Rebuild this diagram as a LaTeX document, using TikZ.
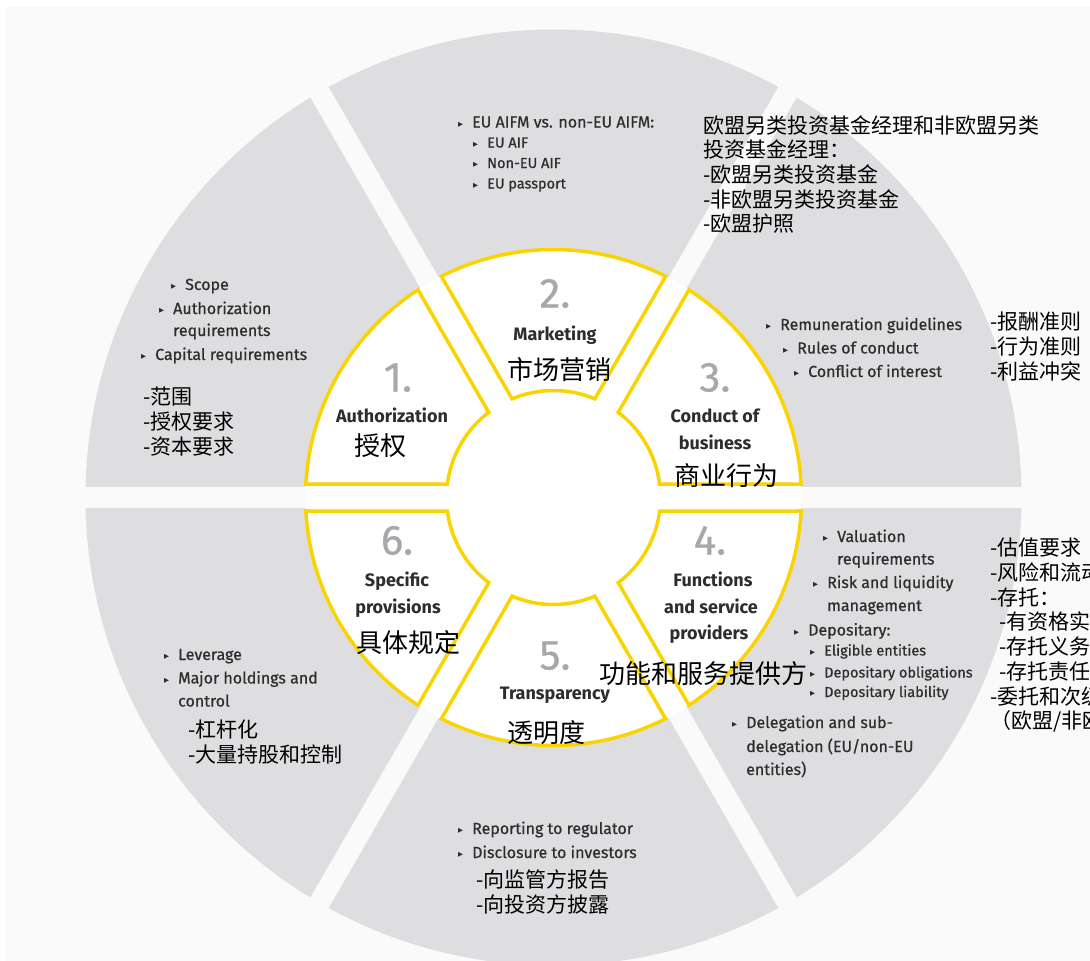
\documentclass[tikz,border=0pt]{standalone}
\usepackage{fontspec}
\setmainfont{Fira Sans}
\newfontfamily\itemfont{Fira Sans}[FakeBold=0.6]
\newfontfamily\cjk{Noto Sans CJK SC}
\newfontfamily\symfont{DejaVu Sans}
\definecolor{panel}{RGB}{250,250,250}
\definecolor{wedge}{RGB}{222,222,225}
\definecolor{gold}{RGB}{250,212,0}
\definecolor{numgrey}{RGB}{168,168,172}
\definecolor{ink}{RGB}{45,45,45}
\newcommand\bul{\makebox[14pt][l]{\raisebox{1.5pt}{\symfont\fontsize{6.5}{6.5}\selectfont ▶}}}

\begin{document}
\begin{tikzpicture}[x=1pt, y=-1pt,
	item/.style={anchor=base west, inner sep=0pt, text=ink, font=\itemfont\fontsize{16}{19}\selectfont},
	subitem/.style={item, font=\itemfont\fontsize{14.5}{17}\selectfont},
	zh/.style={anchor=north west, inner sep=0pt, align=left, font=\cjk\fontsize{21}{24.7}\selectfont},
	num/.style={anchor=base, inner sep=0pt, text=numgrey, font=\itemfont\fontsize{42}{42}\selectfont},
	title/.style={anchor=base, inner sep=0pt, text=ink, font=\bfseries\fontsize{18}{18}\selectfont},
	zhtitle/.style={anchor=base, inner sep=0pt, font=\cjk\fontsize{26}{26}\selectfont}]
	
	\clip (0,0) rectangle (1090,961);
	\fill[white] (0,0) rectangle (1090,961);
	\fill[panel] (6,7) rectangle (1090,961);
	
	\begin{scope}[shift={(553.5,497.5)}]
		\fill[wedge] (0,0) circle (468);
		\foreach \a in {0,60,120}
			\fill[panel, rotate=\a] (-480,-10.5) rectangle (480,10.5);
		\fill[white] (0,0) circle (248);
		\foreach \a in {0,60,...,300}
			\draw[gold, line width=3.5pt, fill=white]
				({\a+asin(13.5/248)}:248) arc[start angle={\a+asin(13.5/248)}, end angle={\a+60-asin(13.5/248)}, radius=248]
				-- ({\a+60-asin(13.5/107)}:107) arc[start angle={\a+60-asin(13.5/107)}, end angle={\a+asin(13.5/107)}, radius=107]
				-- cycle;
	\end{scope}
	
	% 1. authorization
	\node[num] (n1) at (398,391.5) {1.};
	\node[title] (t1) at (392,422) {Authorization};
	\node[zhtitle] (z1) at (380,455) {授权};
	\node[item] (scope) at (171,290) {\bul Scope};
	\node[item] (authreq) at (159,314) {\bul Authorization};
	\node[item] (authreqb) at (173,336) {requirements};
	\node[item] (capreq) at (141,360) {\bul Capital requirements};
	\node[zh] (zhauth) at (143,387) {-范围\\-授权要求\\-资本要求};
	
	% 2. marketing
	\node[num] (n2) at (555,307.5) {2.};
	\node[title] (t2) at (555,340) {Marketing};
	\node[zhtitle] (z2) at (559,379) {市场营销};
	\node[item] (aifm) at (458,127.5) {\bul EU AIFM vs. non-EU AIFM:};
	\node[subitem] (euaif) at (473,147.5) {\bul EU AIF};
	\node[subitem] (noneuaif) at (473,168) {\bul Non-EU AIF};
	\node[subitem] (passport) at (473,188.5) {\bul EU passport};
	\node[zh] (zhmkt) at (703,115) {欧盟另类投资基金经理和非欧盟另类\\投资基金经理：\\-欧盟另类投资基金\\-非欧盟另类投资基金\\-欧盟护照};
	
	% 3. conduct of business
	\node[num] (n3) at (715,391.5) {3.};
	\node[title] (t3) at (715,422) {Conduct of};
	\node[title] (t3b) at (715,449) {business};
	\node[zhtitle] (z3) at (726,485) {商业行为};
	\node[item] (remun) at (766,330) {\bul Remuneration guidelines};
	\node[item] (rules) at (783,353.5) {\bul Rules of conduct};
	\node[item] (conflict) at (794,377) {\bul Conflict of interest};
	\node[zh] (zhcob) at (990,312) {-报酬准则\\-行为准则\\-利益冲突};
	
	% 4. functions and service providers
	\node[num] (n4) at (710,554.5) {4.};
	\node[title] (t4) at (713,586) {Functions};
	\node[title] (t4b) at (711,613) {and service};
	\node[title] (t4c) at (709,639.5) {providers};
	\node[zhtitle] (z4) at (703,683) {功能和服务提供方};
	\node[item] (valuation) at (823,542) {\bul Valuation};
	\node[item] (valuationb) at (837,564.5) {requirements};
	\node[item] (risk) at (813,588) {\bul Risk and liquidity};
	\node[item] (riskb) at (827,611) {management};
	\node[item] (depos) at (794,635.5) {\bul Depositary:};
	\node[subitem] (eligible) at (810,655.5) {\bul Eligible entities};
	\node[subitem] (obligations) at (810,677.5) {\bul Depositary obligations};
	\node[subitem] (liability) at (810,697) {\bul Depositary liability};
	\node[item] (deleg) at (732,728) {\bul Delegation and sub-};
	\node[item] (delegb) at (746,752) {delegation (EU/non-EU};
	\node[item] (delegc) at (746,775) {entities)};
	\node[zh] (zhfun) at (990,538) {-估值要求\\-风险和流动性管理\\-存托：\\\hspace*{9pt}-有资格实体\\\hspace*{9pt}-存托义务\\\hspace*{9pt}-存托责任\\-委托和次级委托\\（欧盟/非欧盟实体）};
	
	% 5. transparency
	\node[num] (n5) at (555,669.5) {5.};
	\node[title] (t5) at (555,699.5) {Transparency};
	\node[zhtitle] (z5) at (546,742) {透明度};
	\node[item] (reporting) at (458,834) {\bul Reporting to regulator};
	\node[item] (disclosure) at (458,858) {\bul Disclosure to investors};
	\node[zh] (zhtra) at (476,870) {-向监管方报告\\-向投资方披露};
	
	% 6. specific provisions
	\node[num] (n6) at (397,554.5) {6.};
	\node[title] (t6) at (397,586) {Specific};
	\node[title] (t6b) at (398,613) {provisions};
	\node[zhtitle] (z6) at (408,652) {具体规定};
	\node[item] (leverage) at (164,660) {\bul Leverage};
	\node[item] (holdings) at (164,683.5) {\bul Major holdings and};
	\node[item] (holdingsb) at (178,706.5) {control};
	\node[zh] (zhspe) at (188,720) {-杠杆化\\-大量持股和控制};
	
\end{tikzpicture}
\end{document}
